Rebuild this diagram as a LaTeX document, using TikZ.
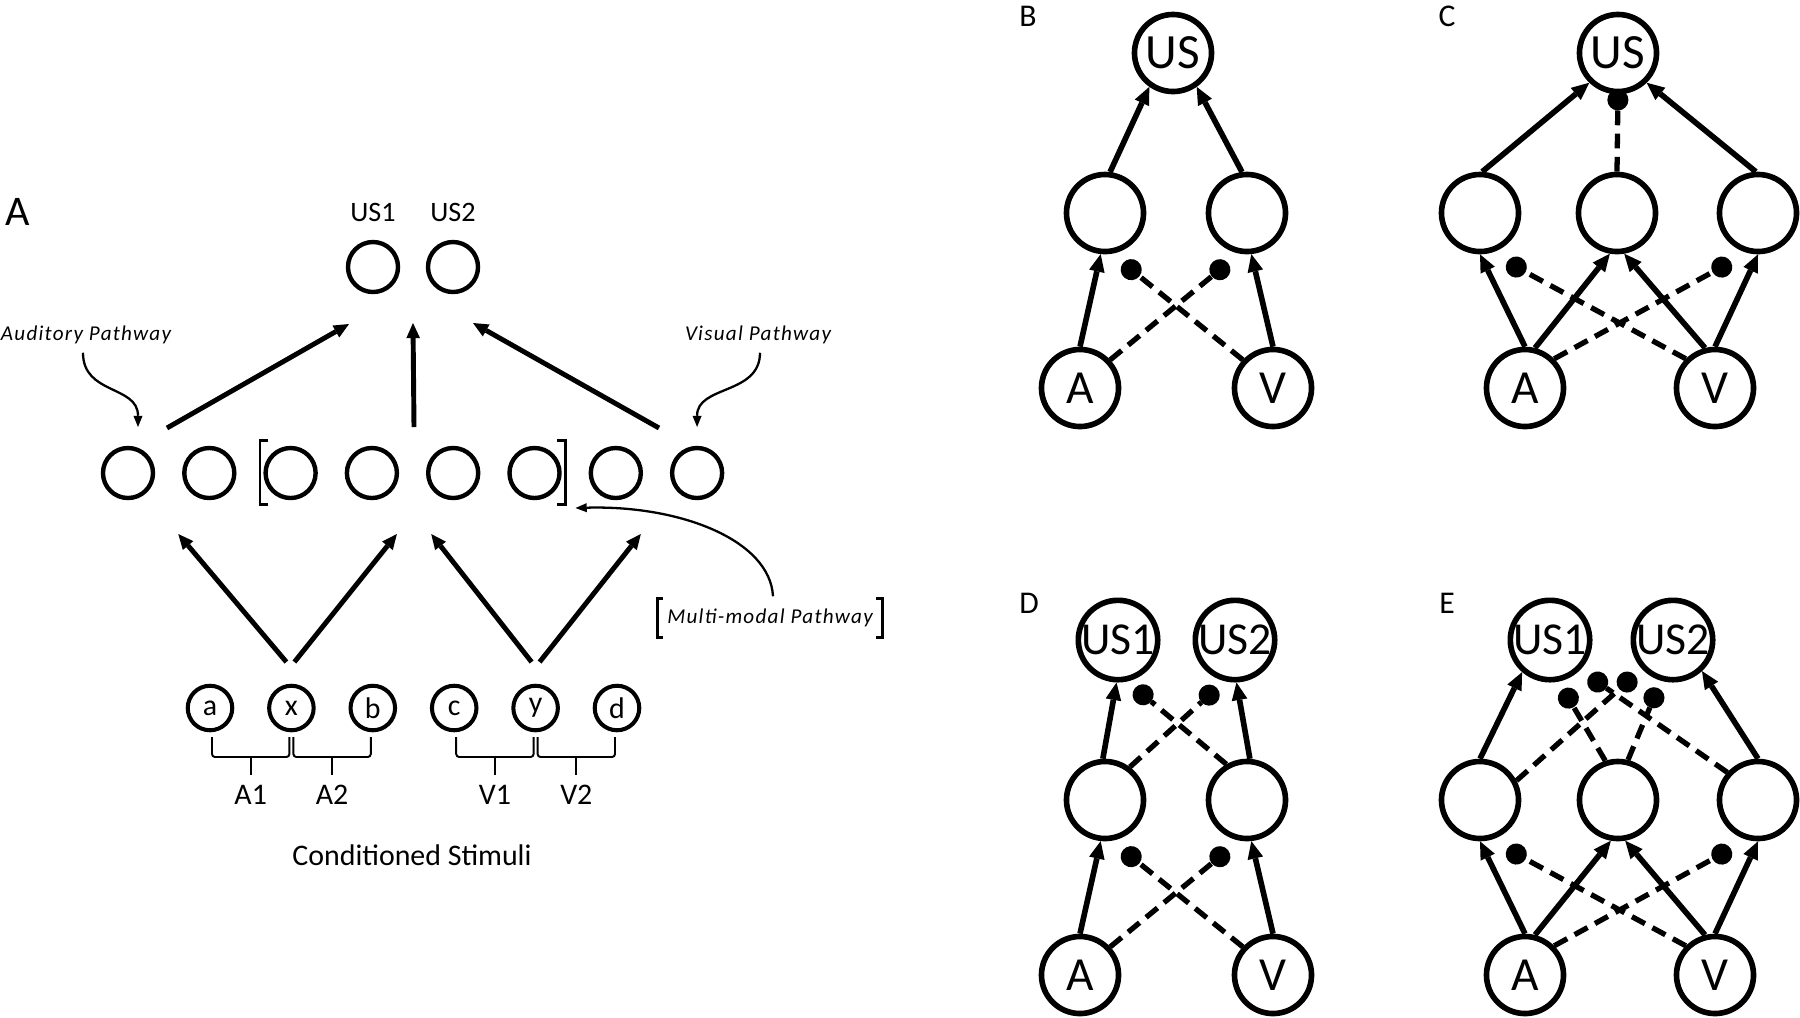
\documentclass[tikz,border=0pt]{standalone}
\usepackage{fontspec}
\setmainfont{Carlito}
\usepackage{tikz}
\usetikzlibrary{arrows.meta}
\usetikzlibrary{calc}

\begin{document}
\begin{tikzpicture}[x=0.01cm,y=-0.01cm,
		acell/.style={circle,draw,line width=1.25pt,minimum size=0.5cm,inner sep=0pt},
		cscell/.style={circle,draw,line width=1.15pt,minimum size=0.445cm,inner sep=0pt,font=\fontsize{8.5}{10}\selectfont},
		ncell/.style={circle,draw,line width=1.6pt,minimum size=0.77cm,inner sep=0pt,font=\fontsize{13.5}{15}\selectfont},
		txtA/.style={inner sep=0pt,font=\fontsize{8.5}{10}\selectfont},
		pnote/.style={inner sep=0pt,font=\fontsize{6}{7}\selectfont\itshape\addfontfeature{LetterSpace=6}},
		panel/.style={inner sep=0pt,font=\fontsize{9}{11}\selectfont},
		feed/.style={line width=1.4pt,-{Triangle[length=4.3pt,width=3.9pt,line width=0pt]}},
		hint/.style={line width=0.65pt,-{Triangle[length=3.2pt,width=2.6pt,line width=0pt]}},
		exc/.style={line width=1.6pt,-{Triangle[length=5pt,width=4.5pt,line width=0pt]}},
		inh/.style={line width=1.5pt,dash pattern=on 4.2pt off 2.4pt,-{Circle[length=6pt,line width=0pt]}},
		grp/.style={line width=0.55pt,rounded corners=0.03cm}]
	\useasboundingbox (0,0) rectangle (1800,1017);

	\node[panel,font=\fontsize{12}{14}\selectfont] (labA) at (18,212) {A};
	\node[txtA,font=\fontsize{8}{10}\selectfont] (us1txt) at (373,212) {US1};
	\node[txtA,font=\fontsize{8}{10}\selectfont] (us2txt) at (453,212) {US2};
	\node[acell] (u1) at (373,267) {};
	\node[acell] (u2) at (453,267) {};
	\foreach \i in {1,...,8}
		\node[acell] (m\i) at ({128+81.3*(\i-1)},473) {};
	\foreach \n [count=\i] in {a,x,b,c,y,d}
		\node[cscell] (s\n) at ({210+81.4*(\i-1)},708) {\n};

	\draw[line width=0.85pt] (268,440) -- (260,440) -- (260,504) -- (268,504);
	\draw[line width=0.85pt] (557,440) -- (565,440) -- (565,504) -- (557,504);

	\coordinate (audout) at (167,428);
	\coordinate (mmout) at (414,427);
	\coordinate (visout) at (659,428);
	\draw[feed] (audout) -- ($(u1)+(-24,57)$);
	\draw[feed] (mmout) -- ($(u1)!0.5!(u2)+(0,56)$);
	\draw[feed] (visout) -- ($(u2)+(20,56)$);

	\draw[feed] ($(sx)+(-5,-46)$) -- ($(m2)+(-31,61)$);
	\draw[feed] ($(sx)+(3,-46)$) -- ($(m4)+(25,61)$);
	\draw[feed] ($(sy)+(-4,-46)$) -- ($(m5)+(-22,61)$);
	\draw[feed] ($(sy)+(4,-46)$) -- ($(m7)+(25,61)$);

	\node[pnote] (audnote) at (86,335) {Auditory Pathway};
	\node[pnote] (visnote) at (758,335) {Visual Pathway};
	\node[pnote] (mmnote) at (770,618) {Multi-modal Pathway};
	\draw[hint] ($(audnote.south)+(-3,8)$) .. controls (83,395) and (138,385) .. ($(m1)+(10,-46)$);
	\draw[hint] ($(visnote.south)+(2,8)$) .. controls (760,395) and (697,385) .. ($(m8)+(0,-46)$);
	\draw[hint] ($(mmnote.north)+(3,-12)$) .. controls (770,540) and (680,505) .. ($(m6)+(41,35)$);
	\draw[line width=0.85pt] (663,598) -- (657,598) -- (657,637) -- (663,637);
	\draw[line width=0.85pt] (876,598) -- (882,598) -- (882,637) -- (876,637);

	\foreach \l/\r/\t in {sa/sx/A1,sx/sb/A2,sc/sy/V1,sy/sd/V2}{
		\draw[grp] ($(\l)+(2,29)$) -- ($(\l)+(2,49)$) -- ($(\r)+(-2,49)$) -- ($(\r)+(-2,29)$);
		\draw[grp] ($(\l)!0.5!(\r)+(0,49)$) -- ($(\l)!0.5!(\r)+(0,67)$);
		\node[txtA] (g\t) at ($(\l)!0.5!(\r)+(0,87)$) {\t};
	}
	\node[txtA] (cstxt) at (412,855) {Conditioned Stimuli};

	\node[panel] (labB) at (1028,16) {B};
	\node[ncell,font=\fontsize{14}{16}\selectfont] (bU) at (1173,53) {US};
	\node[ncell] (bL) at (1105,213) {};
	\node[ncell] (bR) at (1247,213) {};
	\node[ncell] (bA) at (1080,388) {A};
	\node[ncell] (bV) at (1273,388) {V};
	\draw[exc] (bA.north) -- (bL.264);
	\draw[exc] (bV.north) -- (bR.276);
	\draw[exc] (bL.83) -- (bU.235);
	\draw[exc] (bR.97) -- (bU.305);
	\draw[inh] (bA.43) -- ($(bR)+(-19,50)$);
	\draw[inh] (bV.137) -- ($(bL)+(18,50)$);

	\node[panel] (labC) at (1447,16) {C};
	\node[ncell,font=\fontsize{14}{16}\selectfont] (cU) at (1618,53) {US};
	\node[ncell] (cL) at (1480,213) {};
	\node[ncell] (cM) at (1617,213) {};
	\node[ncell] (cR) at (1758,213) {};
	\node[ncell] (cA) at (1525,388) {A};
	\node[ncell] (cV) at (1715,388) {V};
	\draw[exc] (cL.87) -- (cU.226);
	\draw[exc] (cR.93) -- (cU.314);
	\draw[inh] (cM.north) -- ($(cU.south)+(0,-5)$);
	\draw[exc] (cA.north) -- (cL.south);
	\draw[exc] (cA.76) -- (cM.260);
	\draw[exc] (cV.104) -- (cM.280);
	\draw[exc] (cV.north) -- (cR.south);
	\draw[inh] (cA.45) -- ($(cR)+(-27,49)$);
	\draw[inh] (cV.135) -- ($(cL)+(27,49)$);

	\node[panel] (labD) at (1029,603) {D};
	\node[ncell,font=\fontsize{13}{15}\selectfont] (dU1) at (1118,640) {US1};
	\node[ncell,font=\fontsize{13}{15}\selectfont] (dU2) at (1235,640) {US2};
	\node[ncell] (dL) at (1105,800) {};
	\node[ncell] (dR) at (1247,800) {};
	\node[ncell] (dA) at (1080,975) {A};
	\node[ncell] (dV) at (1273,975) {V};
	\draw[exc] (dA.north) -- (dL.264);
	\draw[exc] (dV.north) -- (dR.276);
	\draw[exc] (dL.93) -- (dU1.268);
	\draw[exc] (dR.86) -- (dU2.272);
	\draw[inh] (dL.53) -- ($(dU2)+(-18,48)$);
	\draw[inh] (dR.120) -- ($(dU1)+(17,48)$);
	\draw[inh] (dA.43) -- ($(dR)+(-19,50)$);
	\draw[inh] (dV.137) -- ($(dL)+(18,50)$);

	\node[panel] (labE) at (1447,603) {E};
	\node[ncell,font=\fontsize{13}{15}\selectfont] (eU1) at (1550,640) {US1};
	\node[ncell,font=\fontsize{13}{15}\selectfont] (eU2) at (1673,640) {US2};
	\node[ncell] (eL) at (1480,800) {};
	\node[ncell] (eM) at (1618,800) {};
	\node[ncell] (eR) at (1758,800) {};
	\node[ncell] (eA) at (1525,975) {A};
	\node[ncell] (eV) at (1715,975) {V};
	\draw[exc] (eL.north) -- (eU1.229);
	\draw[exc] (eR.north) -- (eU2.313);
	\draw[inh] (eL.28) -- ($(eU2)+(-38,35)$);
	\draw[inh] (eR.138) -- ($(eU1)+(39,36)$);
	\draw[inh] (eM.108) -- ($(eU1)+(13,49)$);
	\draw[inh] (eM.76) -- ($(eU2)+(-15,48)$);
	\draw[exc] (eA.north) -- (eL.south);
	\draw[exc] (eA.76) -- (eM.260);
	\draw[exc] (eV.104) -- (eM.280);
	\draw[exc] (eV.north) -- (eR.south);
	\draw[inh] (eA.45) -- ($(eR)+(-27,49)$);
	\draw[inh] (eV.135) -- ($(eL)+(27,49)$);
\end{tikzpicture}
\end{document}
